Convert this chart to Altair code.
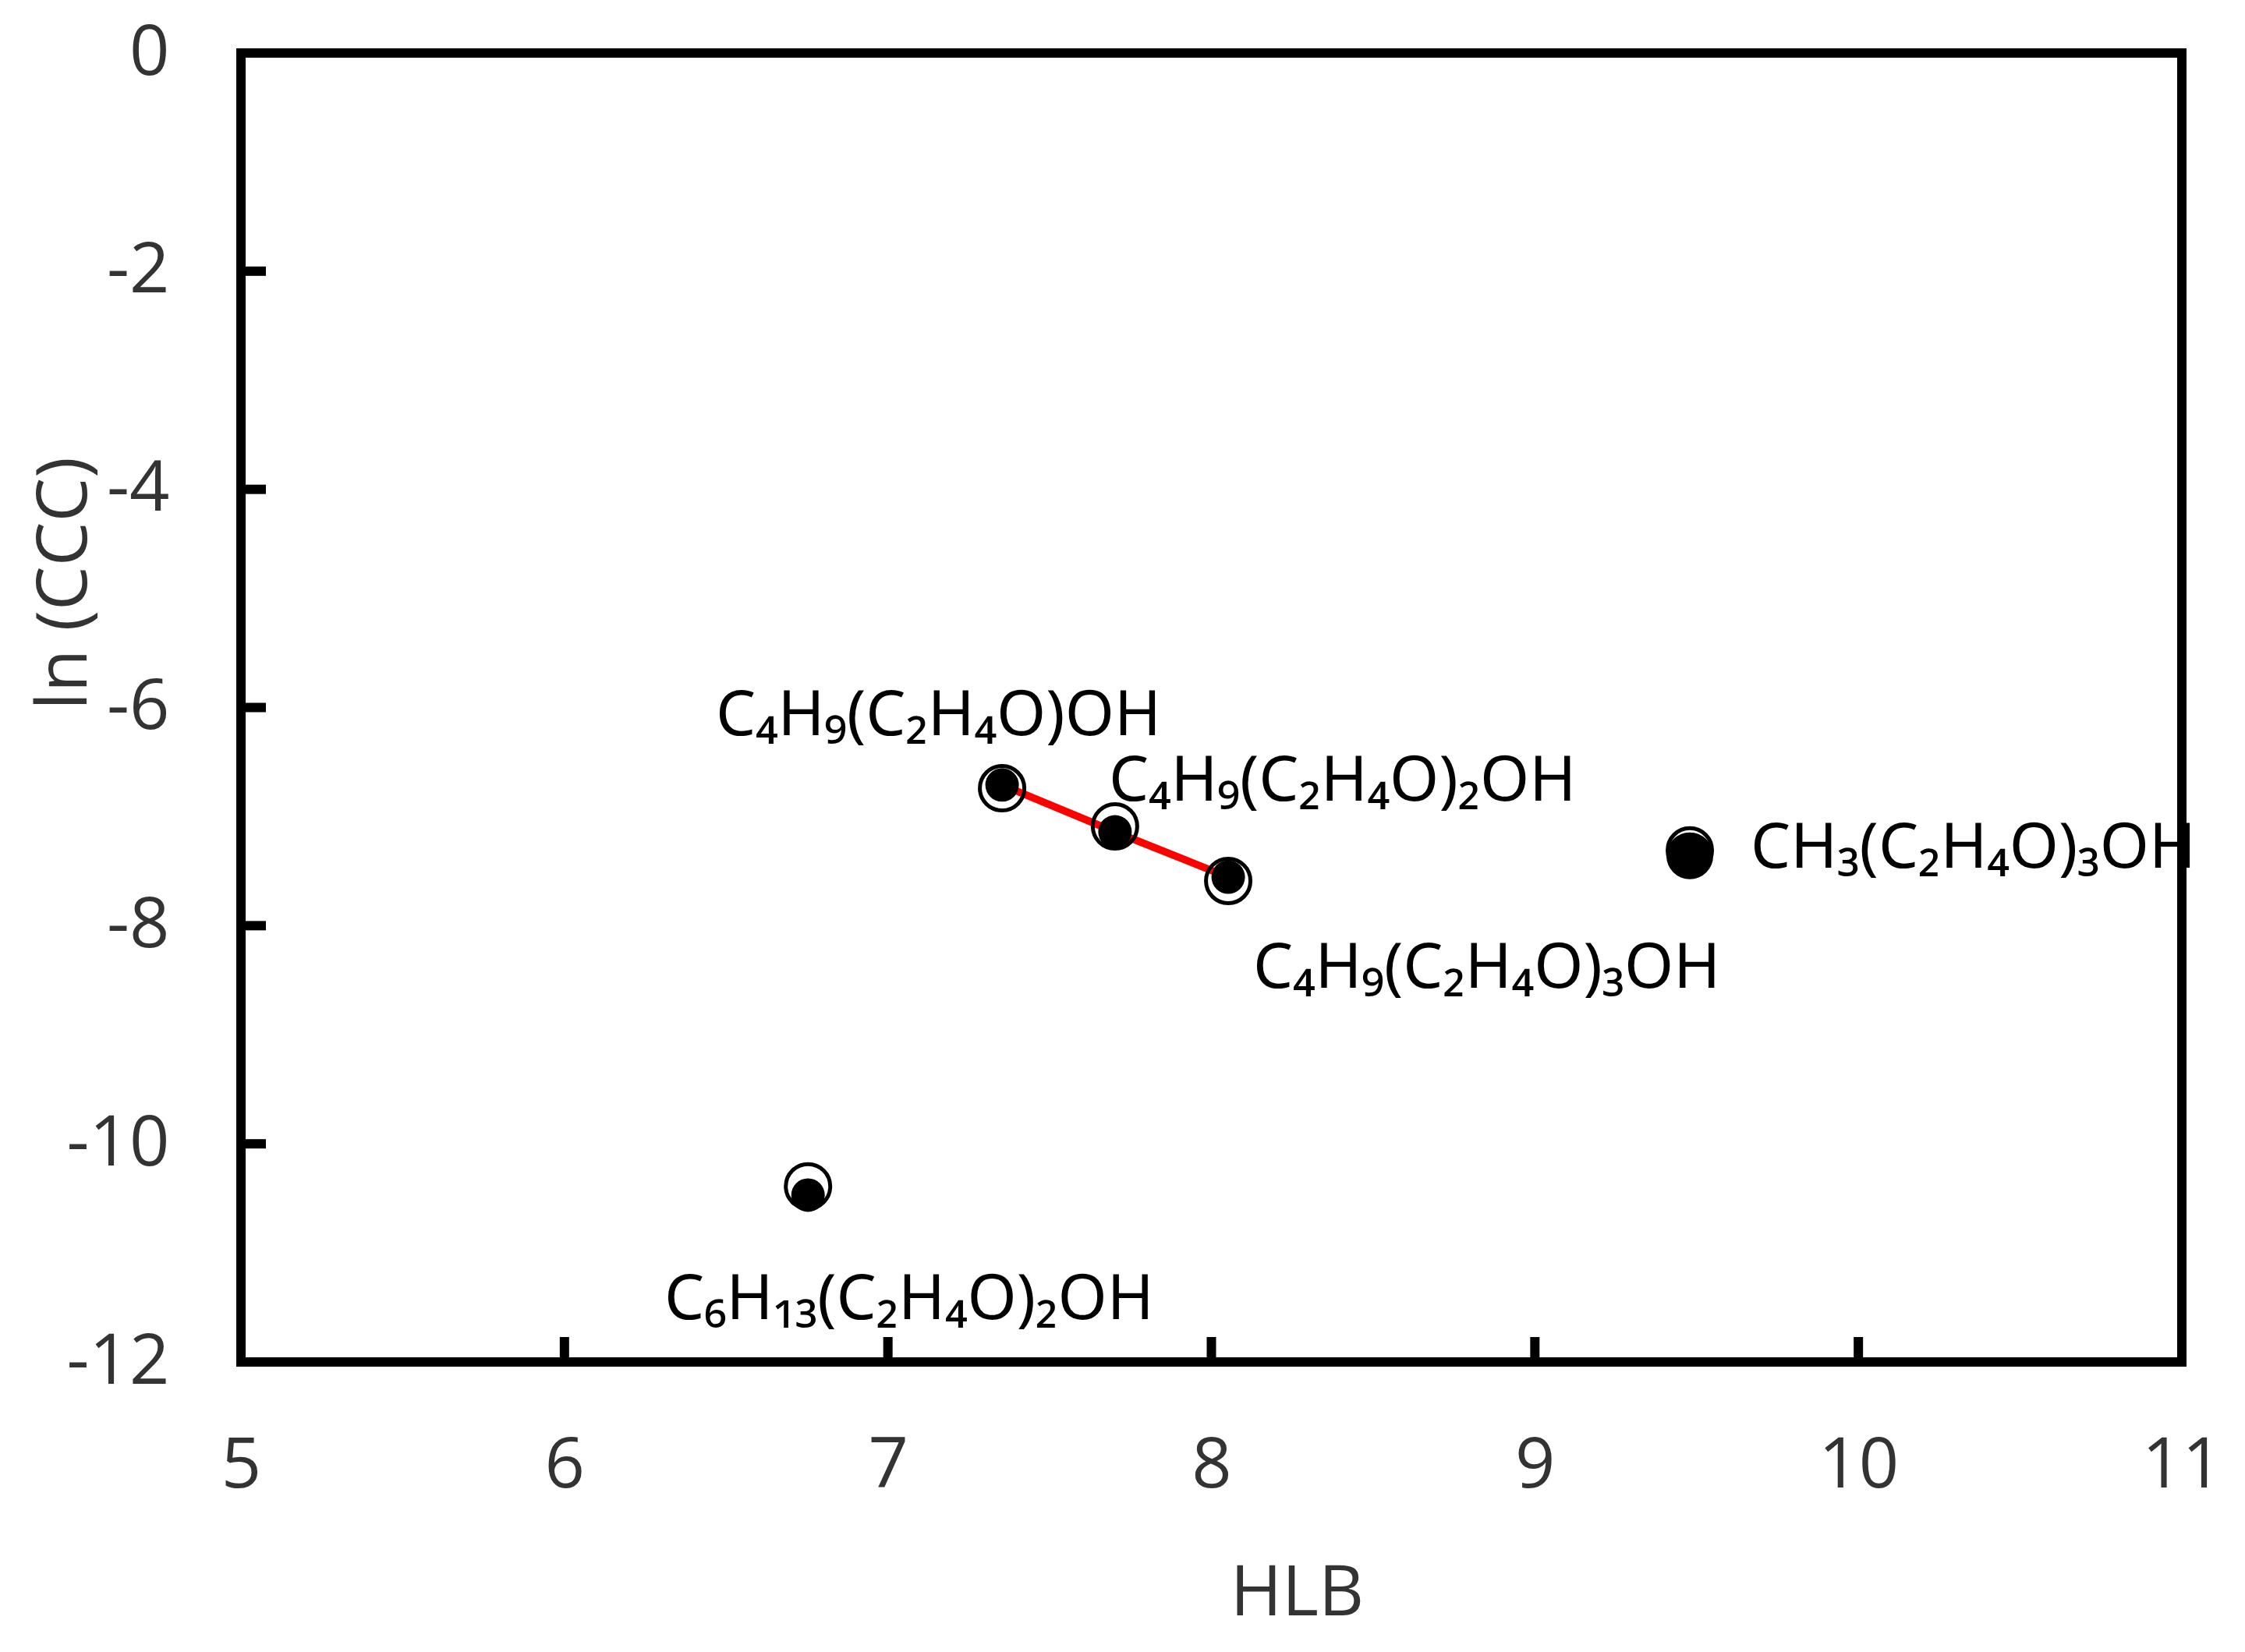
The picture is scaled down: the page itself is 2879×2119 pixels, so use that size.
import altair as alt
import pandas as pd

# ---- data ----
open_hlb = [7.353, 7.702, 8.052, 6.753, 9.479]
open_ln = [-6.74, -7.09, -7.59, -10.39, -7.31]

filled_hlb = [7.353, 7.702, 8.052, 6.753]
filled_ln = [-6.71, -7.14, -7.555, -10.47]

big_hlb = [9.479]
big_ln = [-7.36]

fit_hlb = [7.353, 7.702, 8.052]
fit_ln = [-6.71, -7.14, -7.555]

label_text = [
    "C₄H₉(C₂H₄O)OH",
    "C₄H₉(C₂H₄O)₂OH",
    "C₄H₉(C₂H₄O)₃OH",
    "C₆H₁₃(C₂H₄O)₂OH",
    "CH₃(C₂H₄O)₃OH",
]
label_hlb = [6.468, 7.683, 8.129, 6.309, 9.667]
label_ln = [-6.254, -6.855, -8.570, -11.608, -7.470]

x_ticks = [5, 6, 7, 8, 9, 10, 11]
y_ticks = [0, -2, -4, -6, -8, -10, -12]
x_inner_ticks = [6, 7, 8, 9, 10]
y_inner_ticks = [-2, -4, -6, -8, -10]

W, H = 2489, 1679
TICK_LEN = 32

open_df = pd.DataFrame({"hlb": open_hlb, "ln": open_ln})
filled_df = pd.DataFrame({"hlb": filled_hlb, "ln": filled_ln})
big_df = pd.DataFrame({"hlb": big_hlb, "ln": big_ln})
fit_df = pd.DataFrame({"hlb": fit_hlb, "ln": fit_ln})
lab_df = pd.DataFrame({"hlb": label_hlb, "ln": label_ln, "t": label_text})
xt_df = pd.DataFrame({"hlb": x_inner_ticks})
yt_df = pd.DataFrame({"ln": y_inner_ticks})

xscale = alt.Scale(domain=[5, 11], nice=False, zero=False)
yscale = alt.Scale(domain=[-12, 0], nice=False, zero=False)

AXIS_FONT = "Open Sans"
LABEL_COLOR = "#333333"

x_axis = alt.Axis(
    values=x_ticks, labelExpr="'' + datum.value", ticks=False, tickSize=0,
    domain=False, grid=False, labelFont=AXIS_FONT, labelFontSize=90,
    labelColor=LABEL_COLOR, labelPadding=89, labelFlush=False,
    labelOverlap=False, labelBound=False,
    title="HLB", titleFont=AXIS_FONT, titleFontSize=90, titleFontWeight="normal",
    titleColor=LABEL_COLOR, titleX=1354, titleY=324, titleAlign="center",
    titleBaseline="alphabetic",
)
y_axis = alt.Axis(
    values=y_ticks, labelExpr="'' + datum.value", ticks=False, tickSize=0,
    domain=False, grid=False, labelFont=AXIS_FONT, labelFontSize=90,
    labelColor=LABEL_COLOR, labelPadding=92, labelFlush=False,
    labelOverlap=False, labelBound=False,
    title="ln (CCC)", titleFont=AXIS_FONT, titleFontSize=90, titleFontWeight="normal",
    titleColor=LABEL_COLOR, titleX=-199, titleY=680, titleAngle=270,
    titleAlign="center", titleBaseline="alphabetic",
)

X = alt.X("hlb:Q", scale=xscale, axis=x_axis, title="HLB")
Y = alt.Y("ln:Q", scale=yscale, axis=y_axis, title="ln (CCC)")

line = alt.Chart(fit_df).mark_line(color="#ff0000", strokeWidth=9.5).encode(x=X, y=Y)

open_pts = alt.Chart(open_df).mark_point(
    shape="circle", filled=False, stroke="black", strokeWidth=5, size=3249, opacity=1
).encode(x=X, y=Y)

filled_pts = alt.Chart(filled_df).mark_point(
    shape="circle", filled=True, color="black", size=1849, opacity=1
).encode(x=X, y=Y)

big_pts = alt.Chart(big_df).mark_point(
    shape="circle", filled=True, color="black", size=3600, opacity=1
).encode(x=X, y=Y)

labels = alt.Chart(lab_df).mark_text(
    align="left", baseline="alphabetic", font="Noto Sans", fontSize=81, color="black"
).encode(x=X, y=Y, text="t:N")

xticks = alt.Chart(xt_df).mark_rule(color="black", strokeWidth=12).encode(
    x=X,
    y=alt.value(H),
    y2=alt.value(H - TICK_LEN),
)

yticks = alt.Chart(yt_df).mark_rule(color="black", strokeWidth=12).encode(
    y=Y,
    x=alt.value(0),
    x2=alt.value(TICK_LEN),
)

chart = alt.layer(line, open_pts, filled_pts, big_pts, labels, xticks, yticks).properties(
    width=W, height=H,
    autosize=alt.AutoSizeParams(type="none"),
    padding={"left": 301, "top": 60, "right": 60, "bottom": 360},
    background="white",
).configure_view(
    stroke="black", strokeWidth=12
)

chart.save("out.html", embed_options={"renderer": "svg", "actions": False})
